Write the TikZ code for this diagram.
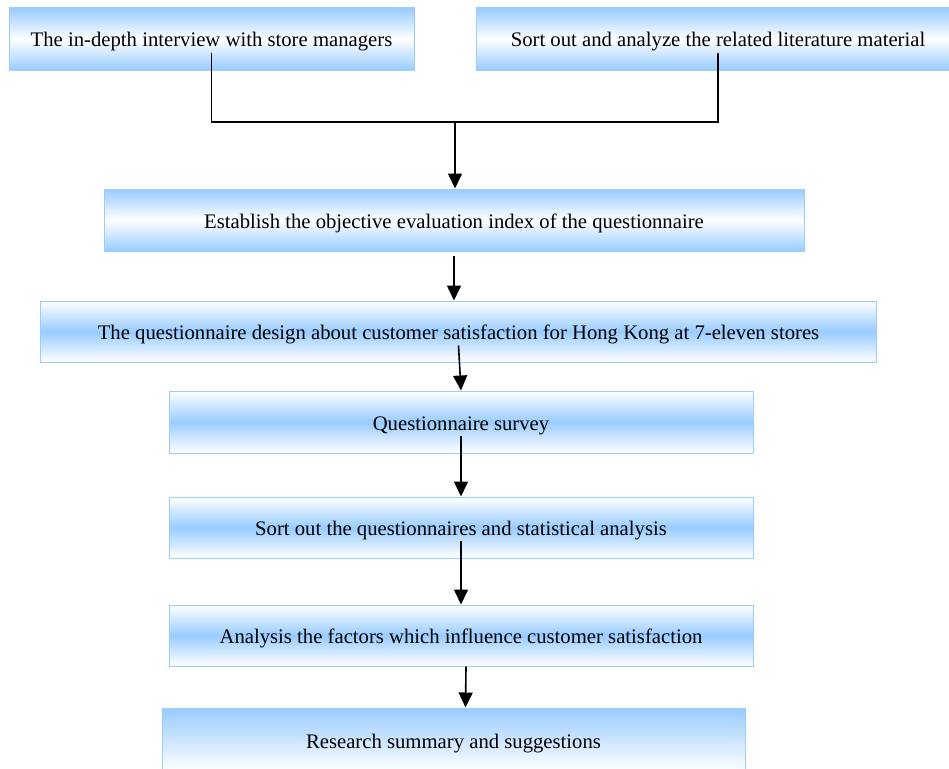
\documentclass[tikz,border=0pt]{standalone}
\usepackage{fontspec}
\setmainfont{Liberation Serif}
\usetikzlibrary{arrows.meta}

\definecolor{boxblue}{RGB}{153,204,255}

\tikzset{
    capbox/.style={draw=boxblue, line width=1pt, inner sep=0pt,
        top color=boxblue, bottom color=boxblue, middle color=white,
        text height=19pt, text depth=3pt,
        font=\fontsize{20.7}{24}\selectfont},
    bandbox/.style={draw=boxblue, line width=1pt, inner sep=0pt,
        top color=white, bottom color=white, middle color=boxblue,
        text height=19pt, text depth=3pt,
        font=\fontsize{20.7}{24}\selectfont},
    joinline/.style={line width=1.6pt},
    flow/.style={line width=1.6pt, -{Triangle[width=14pt,length=15pt]}}
}

\begin{document}
\begin{tikzpicture}[x=1pt,y=-1pt]
    \useasboundingbox (0,0) rectangle (949,768);

    % Define the positions of the boxes
    \coordinate (PInterview) at (211.5, 39);
    \coordinate (PLiterature) at (718, 39);
    \coordinate (PIndex) at (454, 220);
    \coordinate (PDesign) at (458.5, 331.5);
    \coordinate (PSurvey) at (461, 422);
    \coordinate (PSort) at (461, 527.5);
    \coordinate (PFactors) at (461, 635.5);
    \coordinate (PSummary) at (453.5, 740);
    \coordinate (join) at (455, 122);

    % Draw the boxes
    \node[capbox, minimum width=405pt, minimum height=62pt] (interview) at (PInterview)
        {The in-depth interview with store managers};
    \node[capbox, minimum width=484pt, minimum height=62pt] (literature) at (PLiterature)
        {Sort out and analyze the related literature material};
    \node[capbox, minimum width=700pt, minimum height=62pt] (index) at (PIndex)
        {Establish the objective evaluation index of the questionnaire};
    \node[bandbox, minimum width=836pt, minimum height=61pt] (design) at (PDesign)
        {The questionnaire design about customer satisfaction for Hong Kong at 7-eleven stores};
    \node[bandbox, minimum width=584pt, minimum height=62pt] (survey) at (PSurvey)
        {Questionnaire survey};
    \node[bandbox, minimum width=584pt, minimum height=61pt] (sort) at (PSort)
        {Sort out the questionnaires and statistical analysis};
    \node[bandbox, minimum width=584pt, minimum height=61pt] (factors) at (PFactors)
        {Analysis the factors which influence customer satisfaction};
    \node[capbox, top color=boxblue, bottom color=white, middle color=boxblue!50!white,
        minimum width=583pt, minimum height=64pt]
        (summary) at (PSummary) {Research summary and suggestions};

    % Draw the connectors
    \draw[joinline] ([yshift=17pt]interview.south) |- (join) -| ([yshift=17pt]literature.south);
    \draw[flow] (join) -- (join |- index.north);
    \draw[flow] ([yshift=-4pt]index.south) -- (index.south |- design.north);
    \draw[flow] ([yshift=17pt]design.south) -- (survey.north);
    \draw[flow] ([yshift=18pt]survey.south) -- (sort.north);
    \draw[flow] ([yshift=18pt]sort.south) -- (factors.north);
    \draw[flow] ([xshift=5pt]factors.south) -- ([xshift=12pt]summary.north);
\end{tikzpicture}
\end{document}
